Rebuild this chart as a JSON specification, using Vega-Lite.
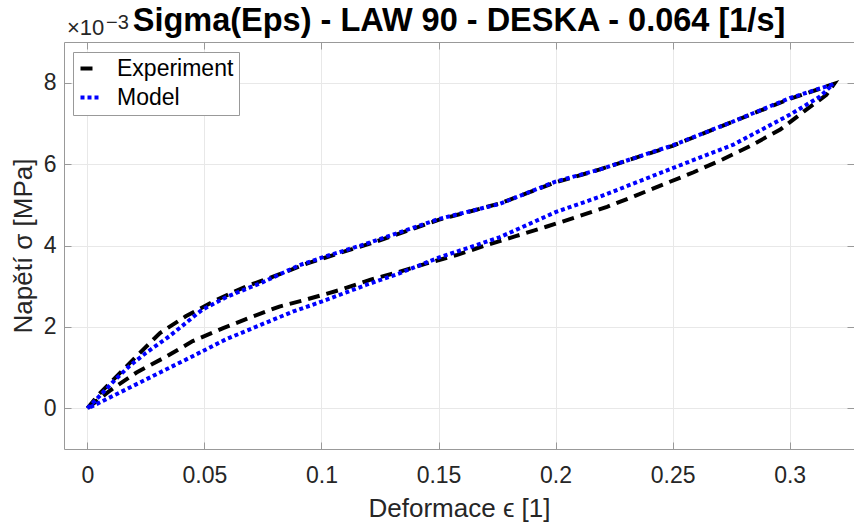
{
  "$schema": "https://vega.github.io/schema/vega-lite/v6.json",
  "width": 790,
  "height": 407,
  "autosize": {"type": "none"},
  "padding": {"left": 64, "top": 42, "right": 0, "bottom": 75},
  "background": "white",
  "title": {
    "text": "Sigma(Eps) - LAW 90 - DESKA - 0.064 [1/s]",
    "font": "Liberation Sans",
    "fontSize": 32.5,
    "fontWeight": "bold",
    "color": "black",
    "anchor": "middle",
    "offset": -24
  },
  "config": {
    "view": {"stroke": null},
    "axis": {
      "labelFont": "Liberation Sans",
      "titleFont": "Liberation Sans",
      "labelFontSize": 23,
      "titleFontSize": 26,
      "labelColor": "#262626",
      "titleColor": "#262626",
      "titleFontWeight": "normal",
      "domainColor": "#999999",
      "tickColor": "#999999",
      "gridColor": "#e8e8e8",
      "tickSize": -7
    },
    "legend": {
      "orient": "none",
      "legendX": 9,
      "legendY": 10,
      "fillColor": "white",
      "strokeColor": "#999999",
      "padding": 5,
      "labelFont": "Liberation Sans",
      "labelFontSize": 23,
      "labelColor": "black",
      "symbolType": "stroke",
      "symbolSize": 324,
      "symbolStrokeWidth": 4,
      "rowPadding": 5,
      "labelOffset": 16
    }
  },
  "datasets": {
    "curves": [
      {"s": "Experiment", "i": 1, "e": 0, "v": 0},
      {"s": "Experiment", "i": 2, "e": 0.005, "v": 0.35},
      {"s": "Experiment", "i": 3, "e": 0.011, "v": 0.7},
      {"s": "Experiment", "i": 4, "e": 0.021, "v": 1.28},
      {"s": "Experiment", "i": 5, "e": 0.031, "v": 1.85},
      {"s": "Experiment", "i": 6, "e": 0.042, "v": 2.26},
      {"s": "Experiment", "i": 7, "e": 0.055, "v": 2.66},
      {"s": "Experiment", "i": 8, "e": 0.068, "v": 3.0},
      {"s": "Experiment", "i": 9, "e": 0.081, "v": 3.27},
      {"s": "Experiment", "i": 10, "e": 0.094, "v": 3.56},
      {"s": "Experiment", "i": 11, "e": 0.108, "v": 3.82},
      {"s": "Experiment", "i": 12, "e": 0.121, "v": 4.05},
      {"s": "Experiment", "i": 13, "e": 0.15, "v": 4.63},
      {"s": "Experiment", "i": 14, "e": 0.176, "v": 5.03},
      {"s": "Experiment", "i": 15, "e": 0.2, "v": 5.55},
      {"s": "Experiment", "i": 16, "e": 0.219, "v": 5.87},
      {"s": "Experiment", "i": 17, "e": 0.25, "v": 6.45},
      {"s": "Experiment", "i": 18, "e": 0.276, "v": 7.05},
      {"s": "Experiment", "i": 19, "e": 0.3, "v": 7.6},
      {"s": "Experiment", "i": 20, "e": 0.319, "v": 7.97},
      {"s": "Experiment", "i": 21, "e": 0.3157, "v": 7.7},
      {"s": "Experiment", "i": 22, "e": 0.306, "v": 7.29},
      {"s": "Experiment", "i": 23, "e": 0.296, "v": 6.85},
      {"s": "Experiment", "i": 24, "e": 0.283, "v": 6.44},
      {"s": "Experiment", "i": 25, "e": 0.2715, "v": 6.12},
      {"s": "Experiment", "i": 26, "e": 0.259, "v": 5.8},
      {"s": "Experiment", "i": 27, "e": 0.246, "v": 5.5},
      {"s": "Experiment", "i": 28, "e": 0.234, "v": 5.22},
      {"s": "Experiment", "i": 29, "e": 0.222, "v": 4.95},
      {"s": "Experiment", "i": 30, "e": 0.209, "v": 4.7},
      {"s": "Experiment", "i": 31, "e": 0.196, "v": 4.46},
      {"s": "Experiment", "i": 32, "e": 0.183, "v": 4.23},
      {"s": "Experiment", "i": 33, "e": 0.17, "v": 4.0},
      {"s": "Experiment", "i": 34, "e": 0.158, "v": 3.77},
      {"s": "Experiment", "i": 35, "e": 0.145, "v": 3.56},
      {"s": "Experiment", "i": 36, "e": 0.133, "v": 3.35},
      {"s": "Experiment", "i": 37, "e": 0.121, "v": 3.16},
      {"s": "Experiment", "i": 38, "e": 0.108, "v": 2.91},
      {"s": "Experiment", "i": 39, "e": 0.094, "v": 2.68},
      {"s": "Experiment", "i": 40, "e": 0.082, "v": 2.5},
      {"s": "Experiment", "i": 41, "e": 0.07, "v": 2.24},
      {"s": "Experiment", "i": 42, "e": 0.058, "v": 1.97},
      {"s": "Experiment", "i": 43, "e": 0.045, "v": 1.65},
      {"s": "Experiment", "i": 44, "e": 0.034, "v": 1.28},
      {"s": "Experiment", "i": 45, "e": 0.021, "v": 0.88},
      {"s": "Experiment", "i": 46, "e": 0.01, "v": 0.45},
      {"s": "Experiment", "i": 47, "e": 0, "v": 0},
      {"s": "Model", "i": 1, "e": 0, "v": 0},
      {"s": "Model", "i": 2, "e": 0.0067, "v": 0.39},
      {"s": "Model", "i": 3, "e": 0.012, "v": 0.71},
      {"s": "Model", "i": 4, "e": 0.018, "v": 1.04},
      {"s": "Model", "i": 5, "e": 0.025, "v": 1.36},
      {"s": "Model", "i": 6, "e": 0.035, "v": 1.77},
      {"s": "Model", "i": 7, "e": 0.049, "v": 2.42},
      {"s": "Model", "i": 8, "e": 0.06, "v": 2.75},
      {"s": "Model", "i": 9, "e": 0.075, "v": 3.1},
      {"s": "Model", "i": 10, "e": 0.0907, "v": 3.52},
      {"s": "Model", "i": 11, "e": 0.1, "v": 3.7},
      {"s": "Model", "i": 12, "e": 0.119, "v": 4.04},
      {"s": "Model", "i": 13, "e": 0.15, "v": 4.65},
      {"s": "Model", "i": 14, "e": 0.176, "v": 5.02},
      {"s": "Model", "i": 15, "e": 0.2, "v": 5.57},
      {"s": "Model", "i": 16, "e": 0.219, "v": 5.87},
      {"s": "Model", "i": 17, "e": 0.25, "v": 6.46},
      {"s": "Model", "i": 18, "e": 0.276, "v": 7.05},
      {"s": "Model", "i": 19, "e": 0.3, "v": 7.62},
      {"s": "Model", "i": 20, "e": 0.3185, "v": 7.96},
      {"s": "Model", "i": 21, "e": 0.313, "v": 7.66},
      {"s": "Model", "i": 22, "e": 0.3, "v": 7.21},
      {"s": "Model", "i": 23, "e": 0.276, "v": 6.48},
      {"s": "Model", "i": 24, "e": 0.25, "v": 5.9},
      {"s": "Model", "i": 25, "e": 0.219, "v": 5.2},
      {"s": "Model", "i": 26, "e": 0.2, "v": 4.82},
      {"s": "Model", "i": 27, "e": 0.176, "v": 4.2},
      {"s": "Model", "i": 28, "e": 0.15, "v": 3.7},
      {"s": "Model", "i": 29, "e": 0.133, "v": 3.31},
      {"s": "Model", "i": 30, "e": 0.119, "v": 3.03},
      {"s": "Model", "i": 31, "e": 0.1, "v": 2.62},
      {"s": "Model", "i": 32, "e": 0.088, "v": 2.38},
      {"s": "Model", "i": 33, "e": 0.074, "v": 2.05},
      {"s": "Model", "i": 34, "e": 0.059, "v": 1.69},
      {"s": "Model", "i": 35, "e": 0.045, "v": 1.28},
      {"s": "Model", "i": 36, "e": 0.031, "v": 0.88},
      {"s": "Model", "i": 37, "e": 0.0167, "v": 0.47},
      {"s": "Model", "i": 38, "e": 0.0024, "v": 0.06},
      {"s": "Model", "i": 39, "e": 0, "v": 0}
    ],
    "exponent": [
      {"e": -0.01, "v": 9, "t": "×10", "u": "−3"}
    ]
  },
  "layer": [
    {
      "data": {"name": "curves"},
      "mark": {"type": "line", "strokeWidth": 4, "strokeCap": "butt", "clip": true},
      "encoding": {
        "x": {
          "field": "e", "type": "quantitative",
          "scale": {"domain": [-0.01, 0.3275], "nice": false, "zero": false},
          "axis": {"title": "Deformace ϵ [1]", "values": [0, 0.05, 0.1, 0.15, 0.2, 0.25, 0.3], "format": "~g", "labelPadding": 22, "titlePadding": 8}
        },
        "y": {
          "field": "v", "type": "quantitative",
          "scale": {"domain": [-1, 9], "nice": false, "zero": false},
          "axis": {"title": "Napětí σ [MPa]", "values": [0, 2, 4, 6, 8], "format": "d", "labelPadding": 15, "titlePadding": 7}
        },
        "color": {
          "field": "s", "type": "nominal",
          "scale": {"domain": ["Experiment", "Model"], "range": ["black", "#0000ff"]},
          "legend": {"title": null}
        },
        "strokeDash": {
          "field": "s", "type": "nominal",
          "scale": {"domain": ["Experiment", "Model"], "range": [[12, 7], [4, 3]]},
          "legend": {"title": null}
        },
        "order": {"field": "i", "type": "quantitative"}
      }
    },
    {
      "data": {"name": "curves"},
      "mark": {"type": "line", "opacity": 0},
      "encoding": {
        "x": {
          "field": "e", "type": "quantitative",
          "scale": {"domain": [-0.01, 0.3275], "nice": false, "zero": false},
          "axis": {"orient": "top", "title": null, "labels": false, "grid": false, "values": [0, 0.05, 0.1, 0.15, 0.2, 0.25, 0.3]}
        },
        "y": {
          "field": "v", "type": "quantitative",
          "scale": {"domain": [-1, 9], "nice": false, "zero": false},
          "axis": {"orient": "right", "title": null, "labels": false, "grid": false, "values": [0, 2, 4, 6, 8]}
        },
        "detail": {"field": "s"}
      }
    },
    {
      "data": {"name": "exponent"},
      "layer": [
        {
          "mark": {"type": "text", "align": "left", "baseline": "alphabetic", "font": "Liberation Sans", "fontSize": 22, "color": "#262626", "dx": 3, "dy": -7},
          "encoding": {
            "x": {"field": "e", "type": "quantitative", "scale": {"domain": [-0.01, 0.3275], "nice": false, "zero": false}, "axis": null},
            "y": {"field": "v", "type": "quantitative", "scale": {"domain": [-1, 9], "nice": false, "zero": false}, "axis": null},
            "text": {"field": "t"}
          }
        },
        {
          "mark": {"type": "text", "align": "left", "baseline": "alphabetic", "font": "Liberation Sans", "fontSize": 20, "color": "#262626", "dx": 42, "dy": -13},
          "encoding": {
            "x": {"field": "e", "type": "quantitative", "scale": {"domain": [-0.01, 0.3275], "nice": false, "zero": false}, "axis": null},
            "y": {"field": "v", "type": "quantitative", "scale": {"domain": [-1, 9], "nice": false, "zero": false}, "axis": null},
            "text": {"field": "u"}
          }
        }
      ]
    }
  ],
  "resolve": {
    "scale": {"x": "independent", "y": "independent"},
    "axis": {"x": "independent", "y": "independent"}
  }
}
